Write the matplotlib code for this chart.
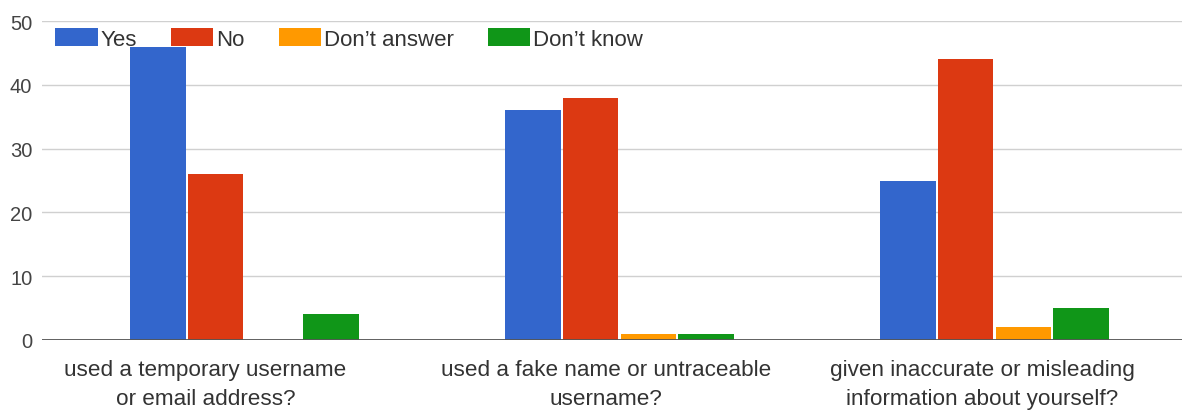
import numpy as np
import matplotlib.pyplot as plt

questions = ["used a temporary username\nor email address?",
             "used a fake name or untraceable\nusername?",
             "given inaccurate or misleading\ninformation about yourself?"]
answers = ["Yes", "No", "Don\u2019t answer", "Don\u2019t know"]
yes = [46, 36, 25]
no = [26, 38, 44]
dont_answer = [0, 1, 2]
dont_know = [4, 1, 5]
series = [yes, no, dont_answer, dont_know]
colors = ["#3366cc", "#dc3912", "#ff9900", "#109618"]

plt.rcParams['font.family'] = ['Liberation Sans', 'DejaVu Sans']

fig = plt.figure(figsize=(11.82, 4.14), dpi=100)
ax = fig.add_axes([42/1182, 1 - 341/414, 1 - 42/1182, (341 - 22)/414])

x = np.arange(len(questions))
step = 0.1535
width = 0.148
for i, (vals, c, lab) in enumerate(zip(series, colors, answers)):
    ax.bar(x + (i - 1.5) * step, vals, width, color=c, label=lab, zorder=3)

ax.set_xlim(-0.54, 2.5)
ax.set_ylim(0, 50)
ax.set_yticks(range(0, 51, 10))
ax.yaxis.grid(True, color="#d0d0d0", linewidth=1, zorder=0)
ax.axhline(0, color="#555555", linewidth=1.3, zorder=4)
for s in ax.spines.values():
    s.set_visible(False)
ax.tick_params(axis='y', length=0, pad=7, labelsize=14.5, labelcolor="#444444")

# category labels, nudged left a little like the original layout
ax.set_xticks([])
label_shift = [-0.104, -0.035, -0.032]
for xi, q, dx in zip(x, questions, label_shift):
    ax.text(xi + dx, -0.058, q, transform=ax.get_xaxis_transform(),
            ha='center', va='top', fontsize=16.2, color="#333333",
            linespacing=1.55)

leg = ax.legend(loc='upper left', bbox_to_anchor=(0.004, 1.005), ncol=4, frameon=False,
                fontsize=16, handlelength=1.9, handleheight=0.85, handletextpad=0.12,
                columnspacing=1.55, borderaxespad=0)
for t in leg.get_texts():
    t.set_color("#333333")

fig.savefig("out.png", dpi=100)
